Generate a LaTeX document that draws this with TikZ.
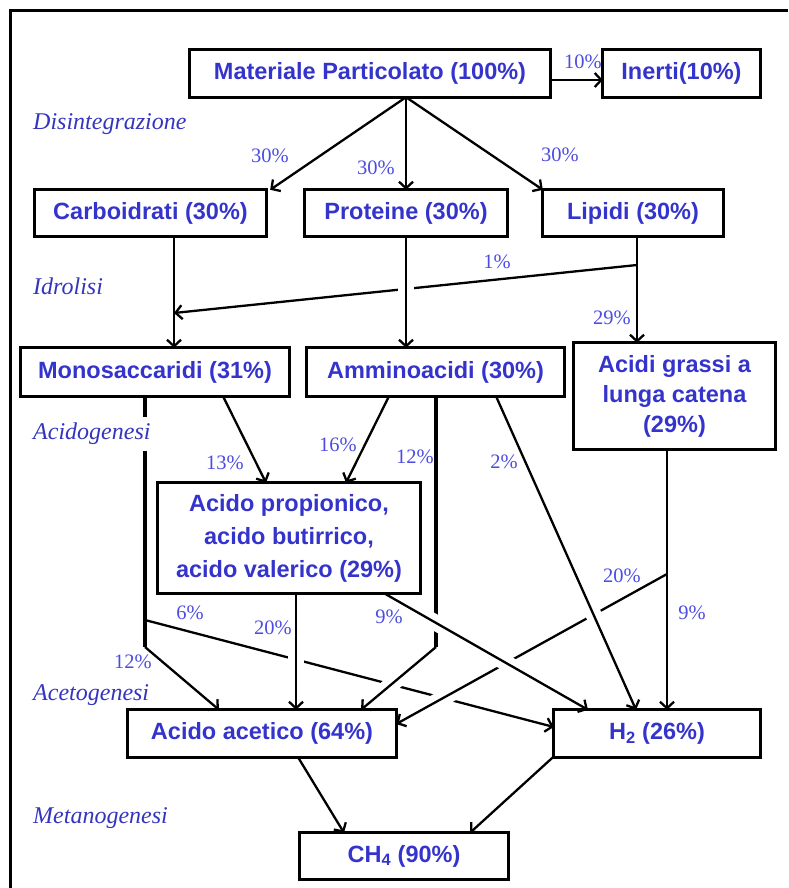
\documentclass[tikz,border=0pt]{standalone}
\usepackage{fontspec}
\setmainfont{Liberation Serif}
\newfontfamily\boxfont{Liberation Sans}
\usetikzlibrary{arrows.meta}
\definecolor{boxblue}{RGB}{52,52,204}
\definecolor{pblue}{RGB}{76,76,226}
\definecolor{sblue}{RGB}{52,52,190}
\tikzset{
  box/.style={inner sep=0pt, minimum height=47pt, text=boxblue,
    font=\boxfont\bfseries\fontsize{23.5}{33}\selectfont, align=center},
  pct/.style={text=pblue, font=\fontsize{20.5}{24}\selectfont, inner sep=0pt},
  phase/.style={text=sblue, font=\itshape\fontsize{24}{28}\selectfont, inner sep=1pt, anchor=west},
  arr/.style={line width=2.3pt, -{Straight Barb[length=6.5pt,width=14pt]}},
  heavyline/.style={line width=4.5pt},
  halo/.style={preaction={draw=white, line width=16pt, arrows=-}},
  boxline/.style={line width=3pt},
  frameline/.style={line width=3pt}
}
\begin{document}
\begin{tikzpicture}[x=1pt,y=-1pt]
\useasboundingbox (0,0) rectangle (788,888);

% boxes (text only; borders drawn later)
\node[box, minimum width=360pt] (mat) at (370,73.5) {Materiale Particolato (100\%)};
\node[box, minimum width=157pt] (inerti) at (681.5,73.5) {Inerti(10\%)};
\node[box, minimum width=231pt, minimum height=46pt] (carbo) at (150.5,213) {Carboidrati (30\%)};
\node[box, minimum width=202pt, minimum height=46pt] (prot) at (406,213) {Proteine (30\%)};
\node[box, minimum width=180pt, minimum height=46pt] (lip) at (633,213) {Lipidi (30\%)};
\node[box, minimum width=268pt, minimum height=48pt] (mono) at (155,372) {Monosaccaridi (31\%)};
\node[box, minimum width=257pt, minimum height=48pt] (ammino) at (435.5,372) {Amminoacidi (30\%)};
\node[box, minimum width=201pt, minimum height=106pt, font=\boxfont\bfseries\fontsize{23.5}{30}\selectfont] (grassi) at (674.5,396) {Acidi grassi a\\lunga catena\\(29\%)};
\node[box, minimum width=262pt, minimum height=110pt] (prop) at (289,538) {Acido propionico,\\acido butirrico,\\acido valerico (29\%)};
\node[box, minimum width=268pt] (acet) at (262,733.5) {Acido acetico (64\%)};
\node[box, minimum width=206pt] (h2) at (657,733.5) {H\textsubscript{2} (26\%)};
\node[box, minimum width=208pt, minimum height=46pt] (ch4) at (404,856) {CH\textsubscript{4} (90\%)};

% guides
\foreach \x in {145,174,219,223,266,296,298,344,346,361,384,389,406,436,470,496,553,588,636,637,667}
  \coordinate (x\x) at (\x,0);
\coordinate (y724) at (0,724);
\coordinate (y727) at (0,727);
\coordinate (j1) at (145,647);
\coordinate (j6) at (145,620);
\coordinate (j2) at (436,647);
\coordinate (j3) at (667,574);
\coordinate (j4) at (637,265);
\coordinate (j5) at (174,313);

% connectors
\draw[arr] (j4) -- (j5);
\draw[arr, halo] (prot.south -| x406) -- (ammino.north -| x406);
\draw[arr] (carbo.south -| x174) -- (mono.north -| x174);
\draw[arr] (lip.south -| x637) -- (grassi.north -| x637);

\draw[arr] ([yshift=-6.5pt]mat.east) -- ([yshift=-6.5pt]inerti.west);
\draw[arr] (mat.south -| x406) -- ([xshift=4pt]carbo.north east);
\draw[arr] (mat.south -| x406) -- (prot.north -| x406);
\draw[arr] (mat.south -| x406) -- (lip.north west);

\draw[arr] (mono.south -| x223) -- (prop.north -| x266);
\draw[arr] (ammino.south -| x389) -- (prop.north -| x346);

\draw[heavyline] (mono.south -| x145) -- (j1);
\draw[arr] (j1) -- (acet.north -| x219);
\draw[arr] (j6) -- (h2.west |- y727);

\draw[white, line width=16pt] (ammino.south -| x436) -- (j2) -- (acet.north -| x361);
\draw[heavyline] (ammino.south -| x436) -- (j2);
\draw[arr] (j2) -- (acet.north -| x361);

\draw[arr, halo] (prop.south -| x296) -- (acet.north -| x296);
\draw[arr, halo] (j3) -- (acet.east |- y724);
\draw[arr] (grassi.south -| x667) -- (h2.north -| x667);
\draw[arr, halo] (ammino.south -| x496) -- (h2.north -| x636);
\draw[arr, halo] (prop.south -| x384) -- (h2.north -| x588);

\draw[arr] (acet.south -| x298) -- (ch4.north -| x344);
\draw[arr] (h2.south -| x553) -- (ch4.north -| x470);

% box borders
\foreach \n in {mat,inerti,carbo,prot,lip,mono,ammino,grassi,prop,acet,h2,ch4}
  \draw[boxline] (\n.south west) rectangle (\n.north east);

% percent labels
\node[pct] (p10) at (583,62) {10\%};
\node[pct] (p30a) at (270,156) {30\%};
\node[pct] (p30b) at (376,168) {30\%};
\node[pct] (p30c) at (560,155) {30\%};
\node[pct] (p1) at (497,262) {1\%};
\node[pct] (p29) at (612,318) {29\%};
\node[pct] (p13) at (225,463) {13\%};
\node[pct] (p16) at (338,445) {16\%};
\node[pct] (p12a) at (415,457) {12\%};
\node[pct] (p2) at (504,462) {2\%};
\node[pct] (p20a) at (622,576) {20\%};
\node[pct] (p6) at (190,613) {6\%};
\node[pct] (p9a) at (389,617) {9\%};
\node[pct] (p20b) at (273,628) {20\%};
\node[pct] (p9b) at (692,613) {9\%};
\node[pct] (p12b) at (133,662) {12\%};

% phase labels
\node[phase] (ph1) at (32,124) {Disintegrazione};
\node[phase] (ph2) at (32,286) {Idrolisi};
\node[phase, fill=white, inner ysep=6pt] (ph3) at (32,434) {Acidogenesi};
\node[phase] (ph4) at (32,695) {Acetogenesi};
\node[phase] (ph5) at (32,818) {Metanogenesi};

% frame
\draw[frameline] (10,888) -- (10,11) -- (788,11);
\end{tikzpicture}
\end{document}
